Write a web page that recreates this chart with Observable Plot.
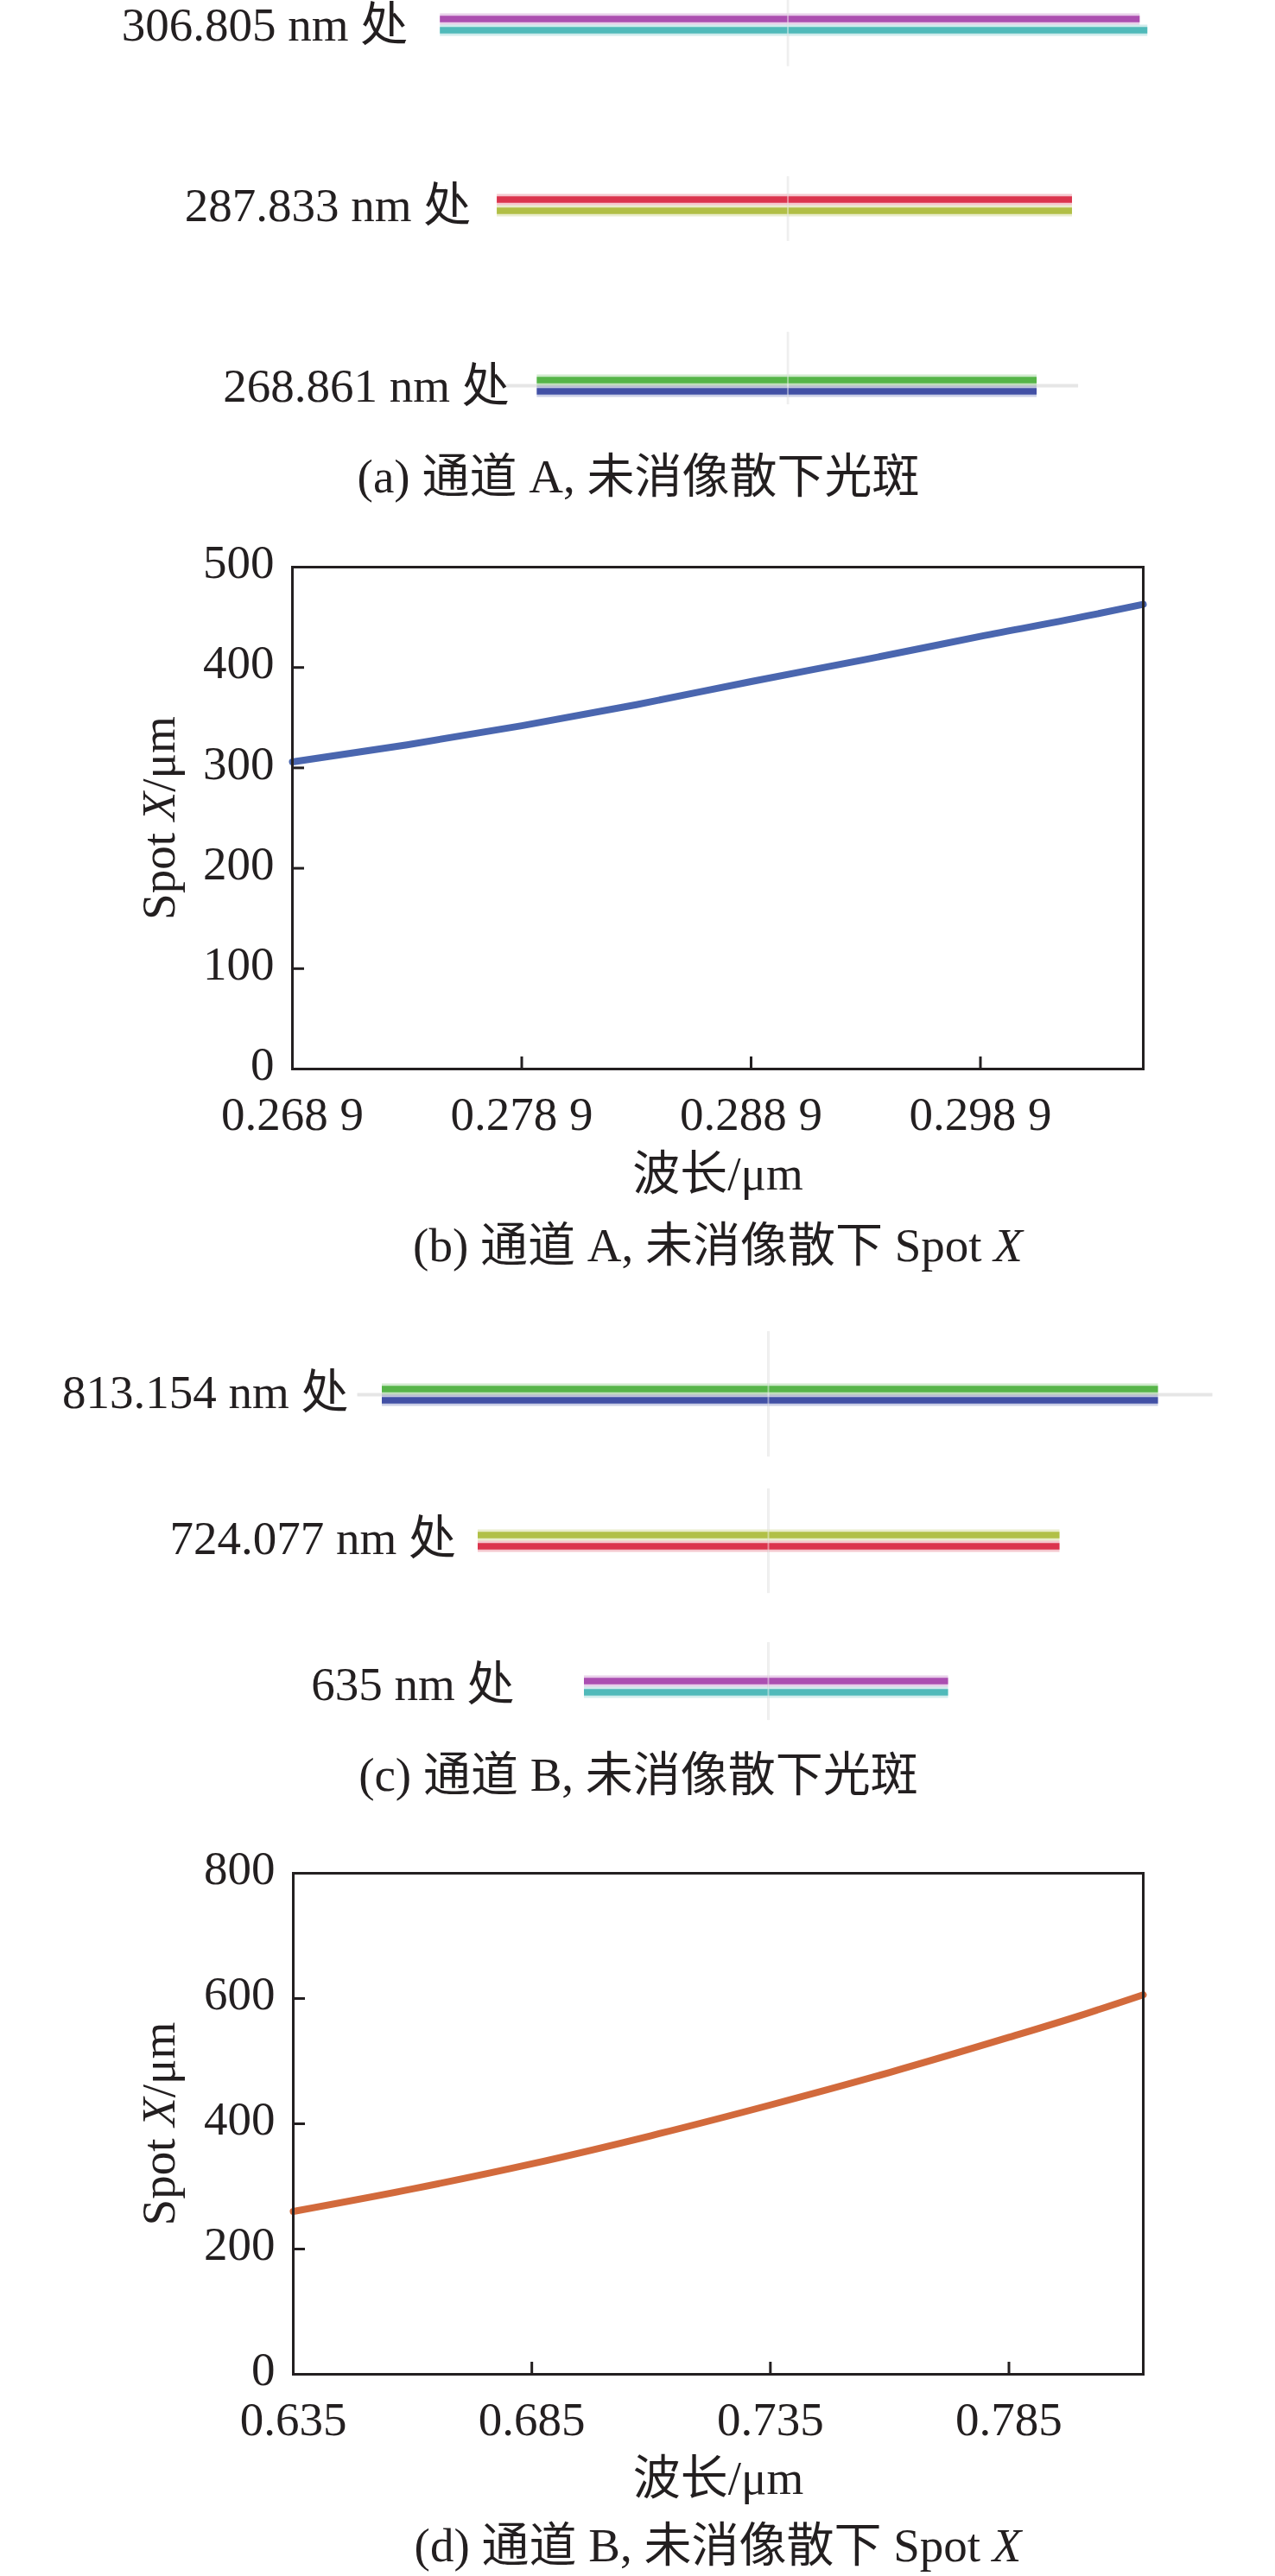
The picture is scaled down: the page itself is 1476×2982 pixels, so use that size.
<!DOCTYPE html>
<html>
<head>
<meta charset="utf-8">
<script src="https://cdn.jsdelivr.net/npm/d3@7"></script>
<script src="https://cdn.jsdelivr.net/npm/@observablehq/plot@0.6"></script>
<style>
  html, body { margin: 0; padding: 0; background: #ffffff; }
  #page { width: 1476px; }
  .cap { position: relative; width: 1476px; }
  .cap span {
    position: absolute; transform: translate(-50%, -50%); white-space: nowrap;
    font-family: "Liberation Serif", "Noto Sans CJK SC", serif; font-size: 55px; color: #231f20; line-height: 1;
  }
  svg { display: block; }
</style>
</head>
<body>
<div id="page"></div>
<script>
// ---------- Data ----------
// (a) channel A spots (µm extents about the spot centre)
const spotLabelsA = ["306.805 nm 处", "287.833 nm 处", "268.861 nm 处"];
const spotWavelengthsA = [306.805, 287.833, 268.861];
const spotUpperX1A = [-226, -189, -163];
const spotUpperX2A = [229, 185, 162];
const spotLowerX1A = [-226, -189, -163];
const spotLowerX2A = [234, 185, 162];
const spotUpperColorA = ["#a33ea7", "#d7203b", "#44ad36"];
const spotLowerColorA = ["#3fb3b3", "#a8b832", "#2f3f9c"];
const labelEndA = [-247, -206, -181];
const crossUpA = [2.7, 3.0, 5.6];
const crossDownA = [4.4, 3.8, 2.0];
const guideRowsA = [268.861];
const guideX1A = [-184];
const guideX2A = [189];

// (b) channel A Spot X
const wavelengthB = [0.2689, 0.2739, 0.2789, 0.2839, 0.2889, 0.2939, 0.2989, 0.3039, 0.306];
const spotXB = [306, 323, 342, 363, 386, 408, 431, 453, 463];
const xTicksB = [0.2689, 0.2789, 0.2889, 0.2989];
const xTickLabelsB = ["0.268 9", "0.278 9", "0.288 9", "0.298 9"];
const yTicksB = [0, 100, 200, 300, 400, 500];

// (c) channel B spots
const spotLabelsC = ["813.154 nm 处", "724.077 nm 处", "635 nm 处"];
const spotWavelengthsC = [813.154, 724.077, 635];
const spotUpperX1C = [-298, -224, -142];
const spotUpperX2C = [301, 225, 139];
const spotLowerX1C = [-298, -224, -142];
const spotLowerX2C = [301, 225, 139];
const spotUpperColorC = ["#45ad37", "#a9b934", "#a23ea8"];
const spotLowerColorC = ["#2f3f9c", "#d7203b", "#3fb3b3"];
const labelEndC = [-324, -241, -196];
const crossUpC = [38.5, 31.6, 26.9];
const crossDownC = [38, 32.2, 20.6];
const guideRowsC = [813.154];
const guideX1C = [-317];
const guideX2C = [343];

// (d) channel B Spot X
const wavelengthD = [0.635, 0.66, 0.685, 0.71, 0.735, 0.76, 0.785, 0.8, 0.813154];
const spotXD = [260, 296, 336, 381, 430, 482, 538, 573, 606];
const xTicksD = [0.635, 0.685, 0.735, 0.785];
const xTickLabelsD = ["0.635", "0.685", "0.735", "0.785"];
const yTicksD = [0, 200, 400, 600, 800];

const captions = [
  "(a) 通道 A, 未消像散下光斑",
  "(b) 通道 A, 未消像散下 Spot <i>X</i>",
  "(c) 通道 B, 未消像散下光斑",
  "(d) 通道 B, 未消像散下 Spot <i>X</i>"
];

// ---------- Helpers ----------
const INK = "#231f20";
const FONT = "'Liberation Serif', 'Noto Sans CJK SC', serif";
const page = document.getElementById("page");

function addCaption(html, height, cx, cy) {
  const d = document.createElement("div");
  d.className = "cap";
  d.style.height = height + "px";
  const s = document.createElement("span");
  s.innerHTML = html;
  s.style.left = cx + "px";
  s.style.top = cy + "px";
  d.appendChild(s);
  page.appendChild(d);
}

function spotPanel(o) {
  const rows = o.labels.map((label, i) => ({
    label, w: o.wl[i],
    ux1: o.ux1[i], ux2: o.ux2[i], lx1: o.lx1[i], lx2: o.lx2[i],
    uc: o.uc[i], lc: o.lc[i], le: o.le[i],
    cy1: o.wl[i] + o.up[i], cy2: o.wl[i] - o.down[i]
  }));
  const guides = o.gRows.map((w, i) => ({w, x1: o.gx1[i], x2: o.gx2[i]}));
  return Plot.plot({
    width: 1476, height: o.height,
    marginLeft: 0, marginRight: 0, marginTop: 0, marginBottom: 0,
    x: {domain: o.xDomain, axis: null},
    y: {domain: o.yDomain, range: o.yRange, axis: null},
    color: {type: "identity"},
    style: {fontFamily: FONT, background: "white", overflow: "visible"},
    marks: [
      Plot.ruleX(rows, {x: 0, y1: "cy1", y2: "cy2", stroke: "#e3e3e3", strokeWidth: 2.5}),
      Plot.ruleY(guides, {y: "w", x1: "x1", x2: "x2", stroke: "#e6e6e6", strokeWidth: 4}),
      Plot.ruleY(rows, {y: "w", x1: "ux1", x2: "ux2", stroke: "uc", dy: -6.5, strokeWidth: 13, strokeOpacity: 0.25}),
      Plot.ruleY(rows, {y: "w", x1: "lx1", x2: "lx2", stroke: "lc", dy: 6.5, strokeWidth: 13, strokeOpacity: 0.25}),
      Plot.ruleY(rows, {y: "w", x1: "ux1", x2: "ux2", stroke: "uc", dy: -6.5, strokeWidth: 7.5, strokeOpacity: 0.88}),
      Plot.ruleY(rows, {y: "w", x1: "lx1", x2: "lx2", stroke: "lc", dy: 6.5, strokeWidth: 7.5, strokeOpacity: 0.88}),
      Plot.ruleX(rows, {x: 0, y1: "cy1", y2: "cy2", stroke: "#ffffff", strokeWidth: 2, strokeOpacity: 0.45}),
      Plot.text(rows, {x: "le", y: "w", text: "label", textAnchor: "end", lineAnchor: "middle",
        dy: o.labelDy, fontSize: 55, fill: INK})
    ]
  });
}

function curvePanel(o) {
  const data = o.xs.map((x, i) => ({x, y: o.ys[i]}));
  const x0 = o.xDomain[0], y0 = o.yDomain[0];
  const svg = Plot.plot({
    width: 1476, height: o.height,
    marginLeft: o.mL, marginRight: o.mR, marginTop: o.mT, marginBottom: o.mB,
    x: {domain: o.xDomain},
    y: {domain: o.yDomain},
    style: {fontFamily: FONT, fontSize: "55px", color: INK, background: "white", overflow: "visible"},
    marks: [
      Plot.line(data, {x: "x", y: "y", stroke: o.color, strokeWidth: 8, strokeOpacity: 0.93, curve: "monotone-x"}),
      Plot.frame({stroke: INK, strokeWidth: 3}),
      Plot.ruleY(o.yTicks, {y: d => d, x1: x0, x2: x0, insetRight: -14, stroke: INK, strokeWidth: 3}),
      Plot.ruleX(o.xTicks, {x: d => d, y1: y0, y2: y0, insetTop: -14, stroke: INK, strokeWidth: 3}),
      Plot.axisY(o.yTicks, {tickSize: 0, tickPadding: 21, dy: -5, label: null, fill: INK, fontSize: 55}),
      Plot.axisX(o.xTicks, {tickSize: 0, tickPadding: 31, label: null, fill: INK, fontSize: 55,
        tickFormat: d => o.xLabels[o.xTicks.indexOf(d)]}),
      Plot.text(["波长/μm"], {text: d => d, frameAnchor: "bottom", dy: o.xLabelDy, lineAnchor: "middle",
        fontSize: 55, fill: INK}),
      Plot.text(["Spot X/μm"], {text: d => d, frameAnchor: "left", dx: o.yLabelDx, rotate: -90,
        textAnchor: "middle", lineAnchor: "middle", fontSize: 55, fill: INK})
    ]
  });
  // italic X in the y-axis label
  svg.querySelectorAll("text").forEach(t => {
    if (t.textContent === "Spot X/μm") {
      while (t.firstChild) t.removeChild(t.firstChild);
      const ns = "http://www.w3.org/2000/svg";
      const parts = [["Spot ", false], ["X", true], ["/μm", false]];
      for (const [s, it] of parts) {
        const ts = document.createElementNS(ns, "tspan");
        ts.textContent = s;
        if (it) ts.setAttribute("font-style", "italic");
        t.appendChild(ts);
      }
    }
  });
  return svg;
}

// ---------- Build ----------
page.appendChild(spotPanel({
  height: 520, labels: spotLabelsA, wl: spotWavelengthsA,
  ux1: spotUpperX1A, ux2: spotUpperX2A, lx1: spotLowerX1A, lx2: spotLowerX2A,
  uc: spotUpperColorA, lc: spotLowerColorA, le: labelEndA, up: crossUpA, down: crossDownA,
  gRows: guideRowsA, gx1: guideX1A, gx2: guideX2A,
  xDomain: [-512, 317], yDomain: [306.805, 268.861], yRange: [28, 446], labelDy: 1
}));
addCaption(captions[0], 62, 739, 31);

page.appendChild(curvePanel({
  height: 818, mL: 338, mR: 153, mT: 74, mB: 163,
  xs: wavelengthB, ys: spotXB, xDomain: [0.2689, 0.306], yDomain: [0, 500],
  xTicks: xTicksB, xLabels: xTickLabelsB, yTicks: yTicksB,
  color: "#3c5aa9", xLabelDy: 122, yLabelDx: -154
}));
addCaption(captions[1], 82, 831, 41);

page.appendChild(spotPanel({
  height: 538, labels: spotLabelsC, wl: spotWavelengthsC,
  ux1: spotUpperX1C, ux2: spotUpperX2C, lx1: spotLowerX1C, lx2: spotLowerX2C,
  uc: spotUpperColorC, lc: spotLowerColorC, le: labelEndC, up: crossUpC, down: crossDownC,
  gRows: guideRowsC, gx1: guideX1C, gx2: guideX2C,
  xDomain: [-592.67, 391.33], yDomain: [813.154, 635], yRange: [132, 470], labelDy: -2
}));
addCaption(captions[2], 68, 739, 34);

page.appendChild(curvePanel({
  height: 822, mL: 339, mR: 153, mT: 80, mB: 162,
  xs: wavelengthD, ys: spotXD, xDomain: [0.635, 0.813154], yDomain: [0, 800],
  xTicks: xTicksD, xLabels: xTickLabelsD, yTicks: yTicksD,
  color: "#cf5f2d", xLabelDy: 121, yLabelDx: -155
}));
addCaption(captions[3], 72, 831, 36);
</script>
</body>
</html>
